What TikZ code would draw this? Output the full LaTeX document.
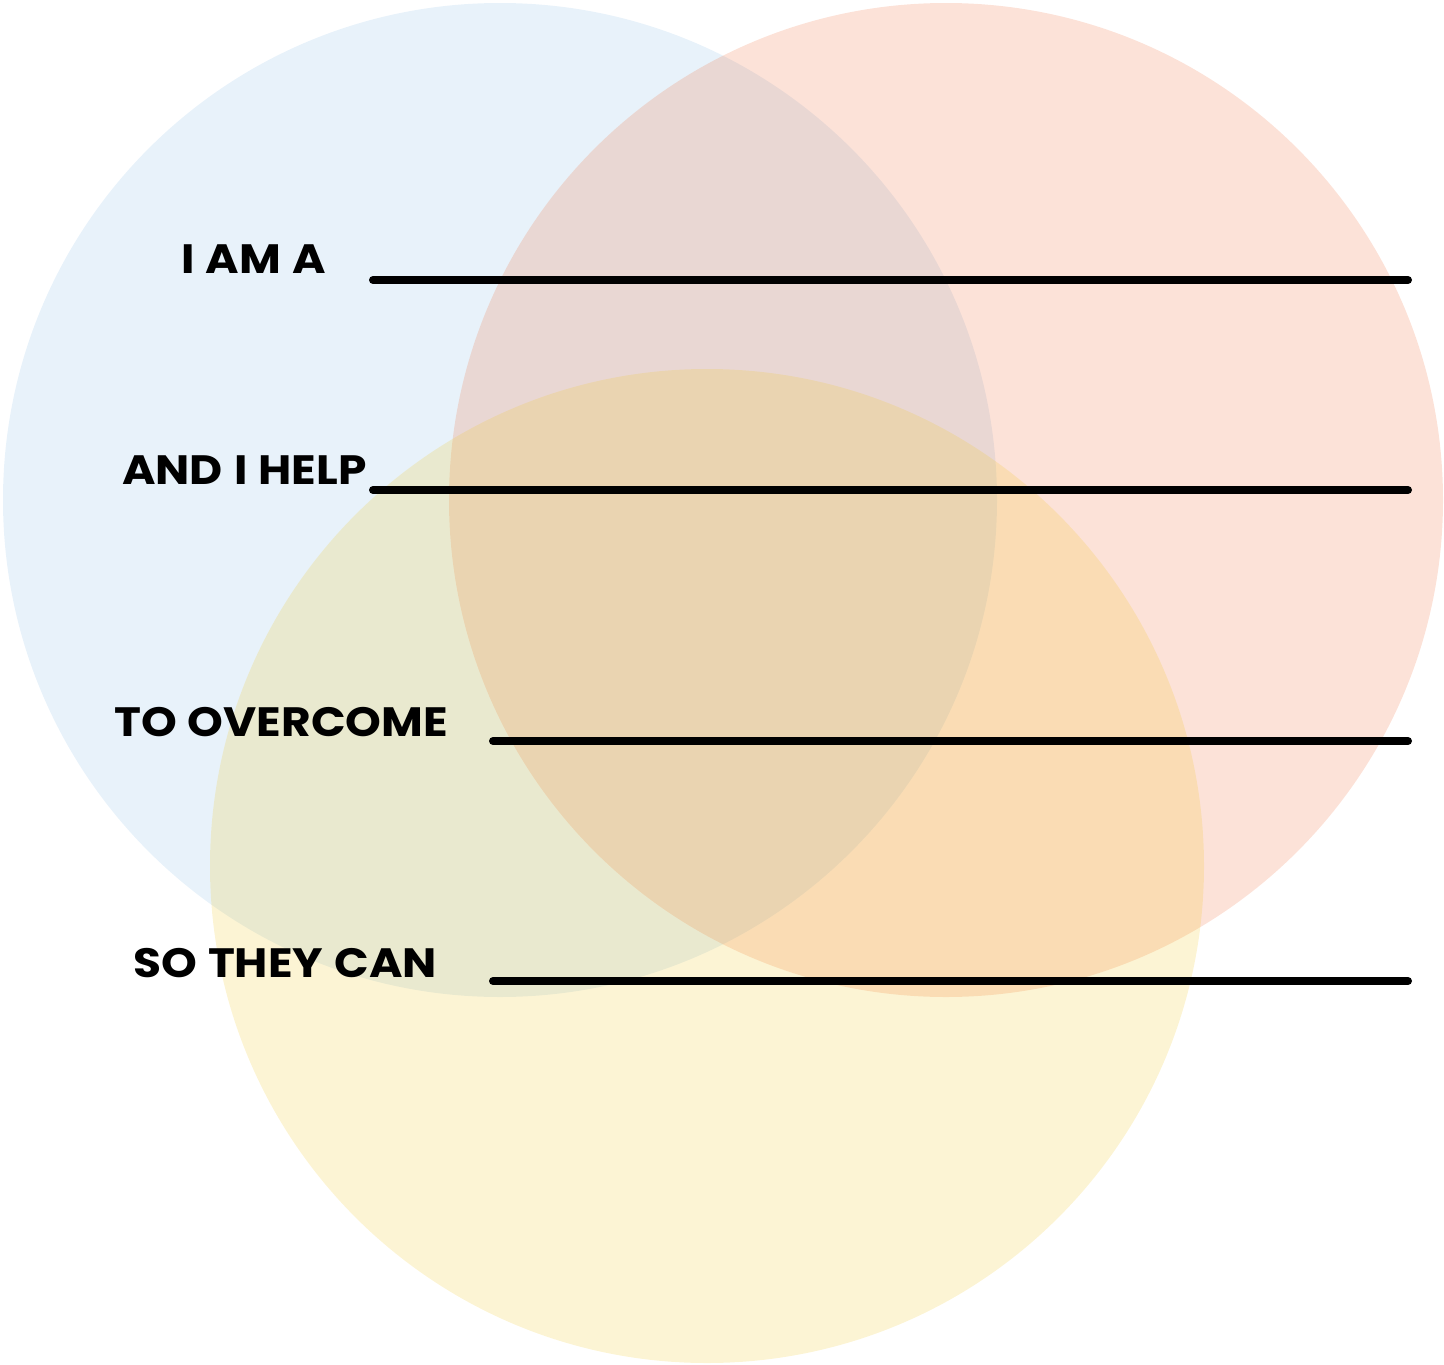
\documentclass[tikz,border=0pt]{standalone}
\usepackage{fontspec}
\setmainfont{Poppins}
\newfontfamily\lblfont{Poppins}[FakeStretch=1.11,WordSpace=1.15]
\definecolor{cblue}{RGB}{140,190,228}
\definecolor{cpink}{RGB}{240,110,60}
\definecolor{cyellow}{RGB}{240,200,40}
\begin{document}
\begin{tikzpicture}[x=1pt,y=-1pt,
  venn/.style={fill opacity=0.2},
  blank/.style={line width=8pt,line cap=round,black},
  lbl/.style={anchor=base west,inner sep=0pt,font=\lblfont\fontsize{41}{41}\selectfont\bfseries}]
\useasboundingbox (0,0) rectangle (1444,1365);
\fill[venn,cblue] (500,500) circle[radius=497];
\fill[venn,cpink] (946,500) circle[radius=497];
\fill[venn,cyellow] (707,866) circle[radius=497];
\node[lbl] (t1) at (181,273) {I AM A};
\node[lbl] (t2) at (122,484) {AND I HELP};
\node[lbl] (t3) at (114,736) {TO OVERCOME};
\node[lbl] (t4) at (133,977) {SO THEY CAN};
\coordinate (a1) at (373,280); \coordinate (b1) at (1408,280);
\coordinate (a2) at (373,490); \coordinate (b2) at (1408,490);
\coordinate (a3) at (493,741); \coordinate (b3) at (1408,741);
\coordinate (a4) at (493,981); \coordinate (b4) at (1408,981);
\draw[blank] (a1) -- (b1);
\draw[blank] (a2) -- (b2);
\draw[blank] (a3) -- (b3);
\draw[blank] (a4) -- (b4);
\end{tikzpicture}
\end{document}
